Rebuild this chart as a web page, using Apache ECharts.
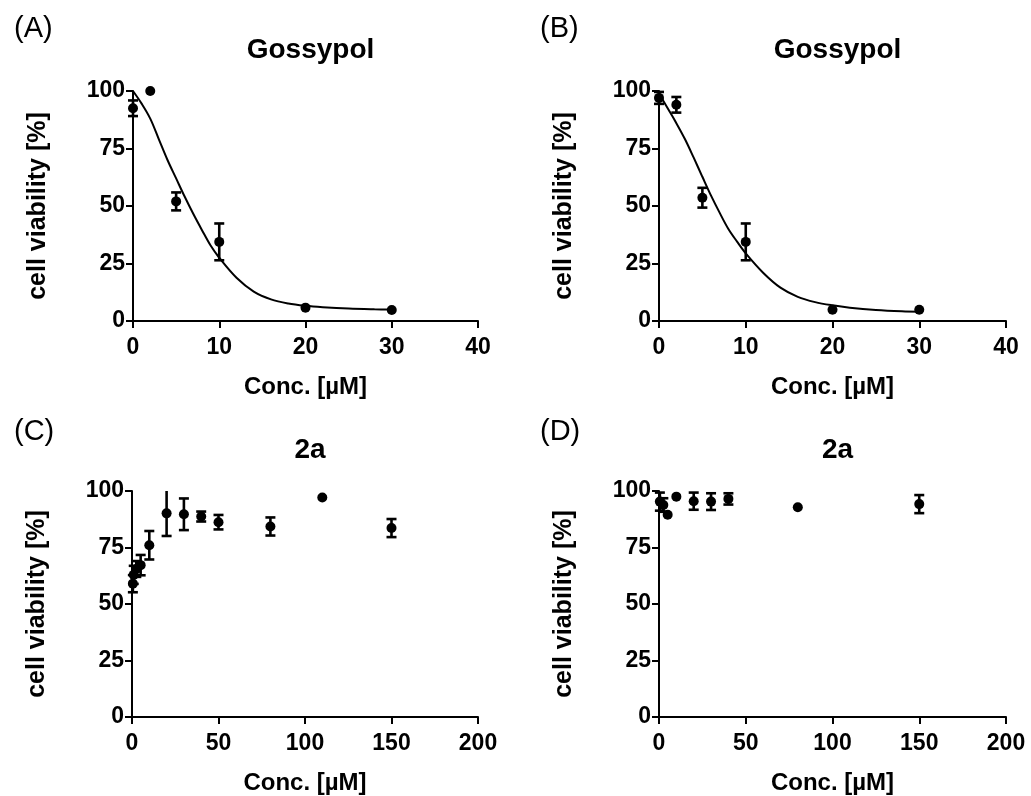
<!DOCTYPE html>
<html>
<head>
<meta charset="utf-8">
<script src="https://cdn.jsdelivr.net/npm/echarts@6/dist/echarts.min.js"></script>
<style>
html,body{margin:0;padding:0;background:#fff;}
#chart{width:1031px;height:796px;}
</style>
</head>
<body>
<div id="chart"></div>
<script>
// ---- Data ----
const panelLabels = ['(A)', '(B)', '(C)', '(D)'];
const panelTitles = ['Gossypol', 'Gossypol', '2a', '2a'];
const yAxisName = 'cell viability [%]';
const xAxisName = 'Conc. [\u00b5M]';
const yTicks = [0, 25, 50, 75, 100];
const xTicksTop = [0, 10, 20, 30, 40];
const xTicksBottom = [0, 50, 100, 150, 200];

// Panel A: Gossypol
const concA = [0, 2, 5, 10, 20, 30];
const meanA = [92.5, 100, 52, 34.4, 5.8, 4.8];
const errA = [3.4, 0, 3.9, 8, 0, 0];
const fitAx = [0, 1, 2, 3, 4, 5, 6, 7, 8, 9, 10, 12, 14, 16, 18, 20, 22, 25, 28, 30];
const fitAy = [100, 94.5, 88, 79, 70, 62, 54, 46.5, 39.5, 32.8, 27.5, 18.8, 12.8, 9.4, 7.6, 6.6, 6.0, 5.4, 5.1, 5.0];

// Panel B: Gossypol
const concB = [0, 2, 5, 10, 20, 30];
const meanB = [97, 94, 53.6, 34.4, 4.9, 4.9];
const errB = [2.6, 3.4, 4.3, 8, 0, 0];
const fitBx = [0, 1, 2, 3, 4, 5, 6, 7, 8, 9, 10, 12, 14, 16, 18, 20, 22, 25, 28, 30];
const fitBy = [99, 92.5, 86, 79, 71, 62.7, 54.5, 47, 40, 34.5, 29.4, 21, 14.5, 10.5, 8.2, 6.8, 5.8, 4.8, 4.2, 4.0];

// Panel C: 2a
const concC = [0.5, 1, 2.5, 5, 10, 20, 30, 40, 50, 80, 110, 150];
const meanC = [59, 62.9, 65.5, 67.2, 76, 90.1, 89.7, 88.7, 86.2, 84.3, 97.1, 83.6];
const errC = [3.8, 4, 3.5, 4.5, 6.3, 10, 7, 2.2, 3.2, 4, 0, 4];

// Panel D: 2a
const concD = [0.5, 2.5, 5, 10, 20, 30, 40, 80, 150];
const meanD = [95.3, 93.8, 89.5, 97.5, 95.5, 95.3, 96.5, 92.8, 94.2];
const errD = [4, 3, 0, 0, 3.8, 3.7, 2.5, 0, 4];

// ---- Build chart ----
const FONT = "'Liberation Sans', Arial, sans-serif";
const grids = [
  {left: 133, top: 91, width: 345, height: 230},
  {left: 659, top: 91, width: 347, height: 230},
  {left: 132, top: 491, width: 346, height: 230},
  {left: 659, top: 491, width: 347, height: 230}
];

function zip(a, b) { return a.map((v, i) => [v, b[i]]); }
function zip3(a, b, c) { return a.map((v, i) => [v, b[i], c[i]]); }

function errRender(params, api) {
  const x = api.value(0), m = api.value(1), e = api.value(2);
  if (!e) return null;
  let hi = m + e, lo = m - e, capHi = true, capLo = true;
  if (hi > 100) { hi = 100; capHi = false; }
  if (lo < 0) { lo = 0; capLo = false; }
  const p1 = api.coord([x, hi]);
  const p2 = api.coord([x, lo]);
  const w = 5;
  const st = {stroke: '#000', lineWidth: 2.6};
  const children = [{type: 'line', shape: {x1: p1[0], y1: p1[1], x2: p2[0], y2: p2[1]}, style: st}];
  if (capHi) children.push({type: 'line', shape: {x1: p1[0] - w, y1: p1[1], x2: p1[0] + w, y2: p1[1]}, style: st});
  if (capLo) children.push({type: 'line', shape: {x1: p2[0] - w, y1: p2[1], x2: p2[0] + w, y2: p2[1]}, style: st});
  return {type: 'group', children: children};
}

const axisCommon = {
  axisLine: {show: true, onZero: false, lineStyle: {color: '#000', width: 2}},
  axisTick: {show: true, length: 7, lineStyle: {color: '#000', width: 2}},
  splitLine: {show: false},
  axisLabel: {color: '#000', fontFamily: FONT, fontWeight: 'bold', fontSize: 23}
};

const xAxes = [], yAxes = [], titles = [], series = [];
const xRanges = [xTicksTop, xTicksTop, xTicksBottom, xTicksBottom];
for (let i = 0; i < 4; i++) {
  const xt = xRanges[i];
  xAxes.push(Object.assign({}, axisCommon, {
    type: 'value', gridIndex: i, min: xt[0], max: xt[xt.length - 1], interval: xt[1] - xt[0],
    name: xAxisName, nameLocation: 'middle', nameGap: 54,
    nameTextStyle: {color: '#000', fontFamily: FONT, fontWeight: 'bold', fontSize: 24},
    axisLabel: Object.assign({}, axisCommon.axisLabel, {margin: 15})
  }));
  yAxes.push(Object.assign({}, axisCommon, {
    type: 'value', gridIndex: i, min: yTicks[0], max: yTicks[yTicks.length - 1], interval: yTicks[1] - yTicks[0],
    name: yAxisName, nameLocation: 'middle', nameGap: 82, nameRotate: 90,
    nameTextStyle: {color: '#000', fontFamily: FONT, fontWeight: 'bold', fontSize: 25},
    axisLabel: Object.assign({}, axisCommon.axisLabel, {margin: 8})
  }));
  const g = grids[i];
  titles.push({
    text: panelTitles[i], left: g.left + g.width / 2, top: g.top - 60, textAlign: 'center',
    textStyle: {color: '#000', fontFamily: FONT, fontWeight: 'bold', fontSize: 28}
  });
  titles.push({
    text: panelLabels[i], left: (i % 2 === 0) ? 9 : 535, top: (i < 2) ? 9 : 412,
    textStyle: {color: '#000', fontFamily: FONT, fontWeight: 'normal', fontSize: 29}
  });
}

const pts = [[concA, meanA, errA], [concB, meanB, errB], [concC, meanC, errC], [concD, meanD, errD]];
for (let i = 0; i < 4; i++) {
  const [c, m, e] = pts[i];
  series.push({
    type: 'custom', xAxisIndex: i, yAxisIndex: i, renderItem: errRender,
    data: zip3(c, m, e), encode: {x: 0, y: 1}, clip: false, z: 3, silent: true
  });
  series.push({
    type: 'scatter', xAxisIndex: i, yAxisIndex: i, data: zip(c, m),
    symbol: 'circle', symbolSize: 10, itemStyle: {color: '#000', opacity: 1}, z: 4, clip: false
  });
}
const fits = [[fitAx, fitAy], [fitBx, fitBy]];
for (let i = 0; i < 2; i++) {
  series.push({
    type: 'line', xAxisIndex: i, yAxisIndex: i, data: zip(fits[i][0], fits[i][1]),
    smooth: 0.35, showSymbol: false, lineStyle: {color: '#000', width: 2}, z: 2, silent: true
  });
}

const chart = echarts.init(document.getElementById('chart'));
chart.setOption({
  backgroundColor: '#fff',
  animation: false,
  title: titles,
  grid: grids,
  xAxis: xAxes,
  yAxis: yAxes,
  series: series
});
</script>
</body>
</html>
